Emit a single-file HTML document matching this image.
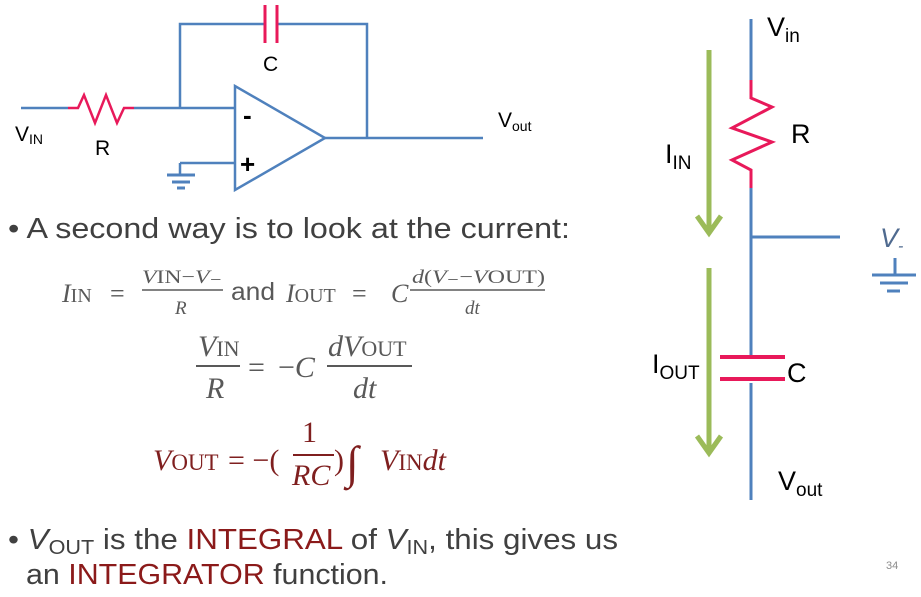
<!DOCTYPE html>
<html><head><meta charset="utf-8"><style>
html,body{margin:0;padding:0;background:#fff;width:921px;height:597px;overflow:hidden}
svg{display:block}
.s{font-family:"Liberation Sans",sans-serif}
.m{font-family:"Liberation Serif",serif;fill:#595959}
.i{font-style:italic}
</style></head><body>
<svg width="921" height="597" viewBox="0 0 921 597">
<g fill="none" stroke-width="2.5">
 <path d="M21 108H68" stroke="#4f81bd"/>
 <path d="M68 108H78L84 95L95 123L106 95L117 123L124 108H134" stroke="#e8195a"/>
 <path d="M134 108H235M180 108V24H265M277 24H367V138M325 138H483M180 163H235M180 163V175" stroke="#4f81bd"/>
 <path d="M265 5V43M277 5V43" stroke="#e8195a" stroke-width="3"/>
 <path d="M235 86V190L325 138Z" stroke="#4f81bd"/>
 <path d="M167 175H195M172 182H190M177 188H185" stroke="#4f81bd" stroke-width="3"/>
</g>
<g class="s" font-size="21" fill="#000">
 <text x="15" y="141">V<tspan font-size="14" dy="3">IN</tspan></text>
 <text x="95" y="155">R</text>
 <text x="263" y="71">C</text>
 <text x="498" y="127">V<tspan font-size="14" dy="4">out</tspan></text>
 <text x="243" y="124" font-size="26" font-weight="bold">-</text>
 <text x="240" y="173" font-size="26" font-weight="bold">+</text>
</g>
<g fill="none" stroke-width="3">
 <path d="M751 19V80M751 188V357M751 237H840M751 383V500" stroke="#4f81bd"/>
 <path d="M751 80V98L772 107L732 128L772 142L732 160L751 170V188" stroke="#e8195a"/>
 <path d="M720 357H785M720 379H785" stroke="#e8195a" stroke-width="4"/>
 <path d="M709 50V233M697 216L709 233L721 216M709 268V453M697 436L709 453L721 436" stroke="#9bbb59" stroke-width="5"/>
 <path d="M895 258V275M872 275H916M880 283H908M887 291H900" stroke="#4f81bd"/>
</g>
<g class="s" font-size="27" fill="#000">
 <text x="767" y="36">V<tspan font-size="19" dy="6">in</tspan></text>
 <text x="791" y="143">R</text>
 <text x="665" y="163">I<tspan font-size="19" dy="6">IN</tspan></text>
 <text x="652" y="373">I<tspan font-size="19" dy="6">OUT</tspan></text>
 <text x="787" y="382">C</text>
 <text x="778" y="490">V<tspan font-size="19" dy="6">out</tspan></text>
 <text x="880" y="247" class="i" fill="#4f6a8f">V<tspan font-size="16" dy="4">-</tspan></text>
</g>
<text class="s" x="8" y="238" font-size="29" fill="#404040" textLength="562" lengthAdjust="spacingAndGlyphs">• A second way is to look at the current:</text>
<g class="m">
 <text x="62" y="302" font-size="26"><tspan class="i">I</tspan><tspan font-size="20">IN</tspan></text>
 <text x="110" y="302" font-size="26">=</text>
 <text x="142" y="283" font-size="19" textLength="80" lengthAdjust="spacingAndGlyphs"><tspan class="i">V</tspan>IN−<tspan class="i">V</tspan>₋</text>
 <line x1="142" y1="290" x2="223" y2="290" stroke="#595959" stroke-width="1.5"/>
 <text x="175" y="314" font-size="19" class="i">R</text>
 <text x="231" y="300" font-size="25" font-family="Liberation Sans" textLength="44" lengthAdjust="spacingAndGlyphs">and</text>
 <text x="286" y="302" font-size="26"><tspan class="i">I</tspan><tspan font-size="20">OUT</tspan></text>
 <text x="352" y="302" font-size="26">=</text>
 <text x="391" y="302" font-size="26" class="i">C</text>
 <text x="412" y="283" font-size="19" textLength="133" lengthAdjust="spacingAndGlyphs"><tspan class="i">d</tspan>(<tspan class="i">V</tspan>₋−<tspan class="i">V</tspan>OUT)</text>
 <line x1="410" y1="290" x2="545" y2="290" stroke="#595959" stroke-width="1.5"/>
 <text x="465" y="314" font-size="19" class="i">dt</text>
</g>
<g class="m">
 <text x="198" y="356" font-size="30"><tspan class="i">V</tspan><tspan font-size="22">IN</tspan></text>
 <line x1="196" y1="366" x2="240" y2="366" stroke="#595959" stroke-width="2"/>
 <text x="206" y="398" font-size="30" class="i">R</text>
 <text x="248" y="377" font-size="30">=</text>
 <text x="278" y="377" font-size="30">−<tspan class="i">C</tspan></text>
 <text x="328" y="356" font-size="30"><tspan class="i">dV</tspan><tspan font-size="22">OUT</tspan></text>
 <line x1="327" y1="366" x2="412" y2="366" stroke="#595959" stroke-width="2"/>
 <text x="353" y="398" font-size="30" class="i">dt</text>
</g>
<g class="m" style="fill:#7f1f1f">
 <text x="153" y="470" font-size="30"><tspan class="i">V</tspan><tspan font-size="23">OUT</tspan></text>
 <text x="228" y="470" font-size="30">= −(</text>
 <text x="302" y="442" font-size="30">1</text>
 <line x1="293" y1="455" x2="334" y2="455" stroke="#7f1f1f" stroke-width="2"/>
 <text x="292" y="485" font-size="30" class="i">RC</text>
 <text x="334" y="470" font-size="30">)</text>
 <text x="346" y="478" font-size="46" class="i">∫</text>
 <text x="380" y="470" font-size="30"><tspan class="i">V</tspan><tspan font-size="23">IN</tspan><tspan class="i">dt</tspan></text>
</g>
<g class="s" font-size="29" fill="#404040">
 <text x="8" y="549" textLength="610" lengthAdjust="spacingAndGlyphs">• <tspan class="i">V</tspan><tspan font-size="20" dy="5">OUT</tspan><tspan dy="-5"> is the </tspan><tspan fill="#8b1a1a">INTEGRAL</tspan> of <tspan class="i">V</tspan><tspan font-size="20" dy="5">IN</tspan><tspan dy="-5">, this gives us</tspan></text>
 <text x="26" y="584" textLength="362" lengthAdjust="spacingAndGlyphs">an <tspan fill="#8b1a1a">INTEGRATOR</tspan> function.</text>
</g>
<text class="s" x="886" y="569" font-size="11" fill="#8c8c8c">34</text>
</svg>
</body></html>
